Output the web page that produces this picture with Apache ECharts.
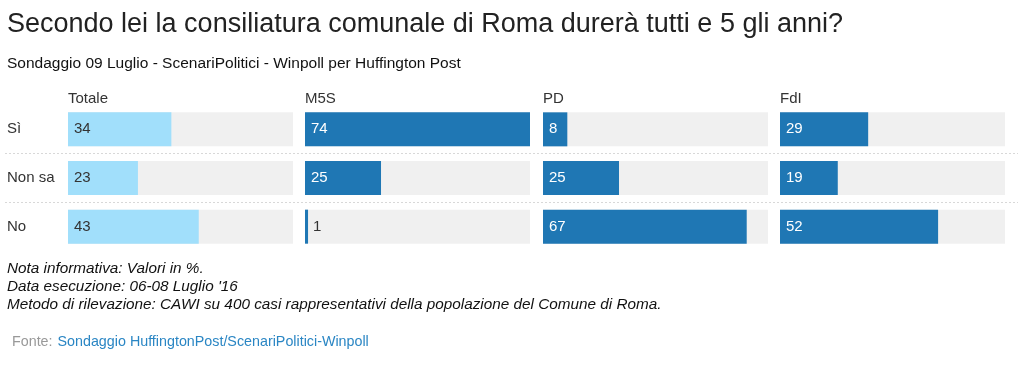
<!DOCTYPE html>
<html><head><meta charset="utf-8">
<script src="https://cdn.jsdelivr.net/npm/echarts@6/dist/echarts.min.js"></script>
<style>html,body{margin:0;padding:0;background:#fff}#c{width:1024px;height:384px}</style>
</head><body><div id="c"></div>
<script>
const categories = ['Sì', 'Non sa', 'No'];
const panels = ['Totale', 'M5S', 'PD', 'FdI'];
const totale = [34, 23, 43];
const m5s = [74, 25, 1];
const pd = [8, 25, 67];
const fdi = [29, 19, 52];
const titleText = 'Secondo lei la consiliatura comunale di Roma durerà tutti e 5 gli anni?';
const subtitleText = 'Sondaggio 09 Luglio - ScenariPolitici - Winpoll per Huffington Post';
const notes = ['Nota informativa: Valori in %.', "Data esecuzione: 06-08 Luglio '16", 'Metodo di rilevazione: CAWI su 400 casi rappresentativi della popolazione del Comune di Roma.'];
const sourceLabel = 'Fonte:';
const sourceText = 'Sondaggio HuffingtonPost/ScenariPolitici-Winpoll';

const values = [totale, m5s, pd, fdi];
const maxVal = Math.max(...values.flat());
const FONT = '"Liberation Sans", Arial, sans-serif';
const lefts = [68, 305, 543, 780];
const W = 225, TOP = 105, H = 146;
const colors = ['#a1dffb', '#1f77b4', '#1f77b4', '#1f77b4'];
const labelColors = ['#333', '#fff', '#fff', '#fff'];

const grids = [], xAxes = [], yAxes = [], series = [];
panels.forEach((p, i) => {
  grids.push({left: lefts[i], top: TOP, width: W, height: H});
  xAxes.push({type: 'value', gridIndex: i, min: 0, max: maxVal, show: false});
  yAxes.push({type: 'category', gridIndex: i, data: categories, inverse: true,
    axisLine: {show: false}, axisTick: {show: false}, splitLine: {show: false},
    axisLabel: i === 0 ? {show: true, align: 'left', margin: 61, fontSize: 15, color: '#333', fontFamily: FONT} : {show: false}});
  series.push({type: 'bar', xAxisIndex: i, yAxisIndex: i, barWidth: 34,
    showBackground: true, backgroundStyle: {color: '#f0f0f0'},
    itemStyle: {color: colors[i]},
    silent: true,
    data: values[i].map(v => ({value: v, label: {color: v < 5 ? '#333' : labelColors[i], distance: v < 5 ? 8 : 6}})),
    label: {show: true, position: 'insideLeft', fontSize: 15, fontFamily: FONT}
  });
});
// separator grid
grids.push({left: 5, top: TOP, width: 1013, height: H});
xAxes.push({type: 'value', gridIndex: 4, show: false});
yAxes.push({type: 'value', gridIndex: 4, min: 0, max: categories.length, interval: 1,
  axisLabel: {show: false}, axisLine: {show: false}, axisTick: {show: false},
  splitLine: {show: true, lineStyle: {type: [2, 2], width: 1, color: ['rgba(0,0,0,0)', '#d8d8d8', '#d8d8d8', 'rgba(0,0,0,0)']}}});

const titles = [
  {text: titleText, left: 7, top: 11, padding: 0, textStyle: {fontFamily: FONT, fontSize: 27, fontWeight: 'normal', color: '#222'}},
  {text: subtitleText, left: 7, top: 56, padding: 0, textStyle: {fontFamily: FONT, fontSize: 15.5, fontWeight: 'normal', color: '#111'}}
];
panels.forEach((p, i) => titles.push({text: p, left: lefts[i], top: 91, padding: 0, textStyle: {fontFamily: FONT, fontSize: 15, fontWeight: 'normal', color: '#333'}}));
titles.push({text: notes.join('\n'), left: 7, top: 260, padding: 0, textStyle: {fontFamily: FONT, fontSize: 15.3, fontStyle: 'italic', fontWeight: 'normal', color: '#111', lineHeight: 18}});
titles.push({text: '{a|' + sourceLabel + '} {b|' + sourceText + '}', left: 12, top: 333, padding: 0,
  textStyle: {fontWeight: 'normal', rich: {a: {fontFamily: FONT, fontSize: 14.3, fontWeight: 'normal', color: '#999'}, b: {fontFamily: FONT, fontSize: 14.3, fontWeight: 'normal', color: '#2a86c4'}}}});

const chart = echarts.init(document.getElementById('c'), null, {renderer: 'canvas'});
chart.setOption({animation: false, backgroundColor: '#fff', title: titles, grid: grids, xAxis: xAxes, yAxis: yAxes, series: series});
</script></body></html>
